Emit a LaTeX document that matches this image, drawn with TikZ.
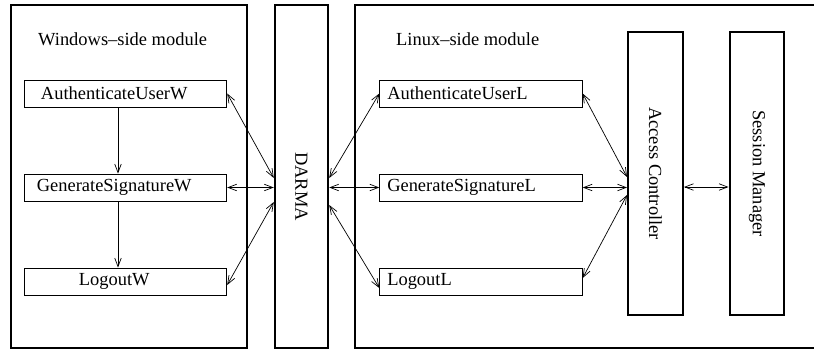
\documentclass[tikz,border=0pt]{standalone}
\usepackage{fontspec}
\setmainfont{Liberation Serif}
\usepackage{tikz}
\usetikzlibrary{arrows.meta,positioning,calc}

\begin{document}
\begin{tikzpicture}[
    module/.style={rectangle, draw, line width=1.4pt},
    func/.style={rectangle, draw, line width=0.5pt, minimum width=4.05cm, minimum height=0.54cm, inner sep=0pt, font=\fontsize{10.5}{12}\selectfont},
    funcW/.style={func, execute at end node=\hspace*{0.45cm}},
    funcL/.style={func, text width=3.75cm, align=left},
    tall/.style={rectangle, draw, line width=1.4pt, minimum width=1.09cm, minimum height=5.66cm, font=\fontsize{10.5}{12}\selectfont},
    >={Straight Barb[length=1.7mm,width=1.3mm]}
]
    \useasboundingbox (0,0) rectangle (16.28,7.0);

    % Modules
    \node[module, minimum width=4.72cm, minimum height=6.86cm] (win) at (2.58,3.47) {};
    \node[module, minimum width=1.06cm, minimum height=6.86cm] (darma) at (6.03,3.47) {};
    \node[module, minimum width=9.6cm, minimum height=6.86cm] (lin) at (11.9,3.47) {};
    \node[rotate=-90, font=\fontsize{10.5}{12}\selectfont] (darmalabel) at (6.03,3.27) {DARMA};

    \node[anchor=base west, font=\fontsize{10.5}{12}\selectfont] (winlabel) at (0.64,6.1) {Windows--side module};
    \node[anchor=base west, font=\fontsize{10.5}{12}\selectfont] (linlabel) at (7.8,6.1) {Linux--side module};

    % Windows side
    \node[funcW] (authW) at (2.51,5.13) {AuthenticateUserW};
    \node[funcW] (genW) at (2.51,3.25) {GenerateSignatureW};
    \node[funcW] (logW) at (2.51,1.37) {LogoutW};

    % Linux side
    \node[funcL] (authL) at (9.62,5.13) {AuthenticateUserL};
    \node[funcL] (genL) at (9.62,3.25) {GenerateSignatureL};
    \node[funcL] (logL) at (9.62,1.37) {LogoutL};

    \node[tall] (ac) at (13.11,3.53) {\rotatebox{-90}{Access Controller}};
    \node[tall] (sm) at (15.14,3.53) {\rotatebox{-90}{Session Manager}};

    \draw[->] ([xshift=-0.15cm]authW.south) -- ([xshift=-0.15cm]genW.north);
    \draw[->] ([xshift=-0.15cm]genW.south) -- ([xshift=-0.15cm]logW.north);

    \draw[<->] (authW.east) -- ([yshift=-0.03cm]darma.west);
    \draw[<->] (genW.east) -- (genW.east -| darma.west);
    \draw[<->] ([yshift=-0.07cm]logW.east) -- ([yshift=-0.51cm]darma.west);

    \draw[<->] ([yshift=-0.03cm]darma.east) -- (authL.west);
    \draw[<->] (genL.west -| darma.east) -- (genL.west);
    \draw[<->] ([yshift=-0.57cm]darma.east) -- ([yshift=-0.13cm]logL.west);

    \draw[<->] (authL.east) -- ([yshift=-0.07cm]ac.west);
    \draw[<->] (genL.east) -- (genL.east -| ac.west);
    \draw[<->] ([yshift=0.07cm]logL.east) -- ([yshift=-0.43cm]ac.west);

    \draw[<->] ([yshift=-0.27cm]ac.east) -- ([yshift=-0.27cm]sm.west);
\end{tikzpicture}
\end{document}
